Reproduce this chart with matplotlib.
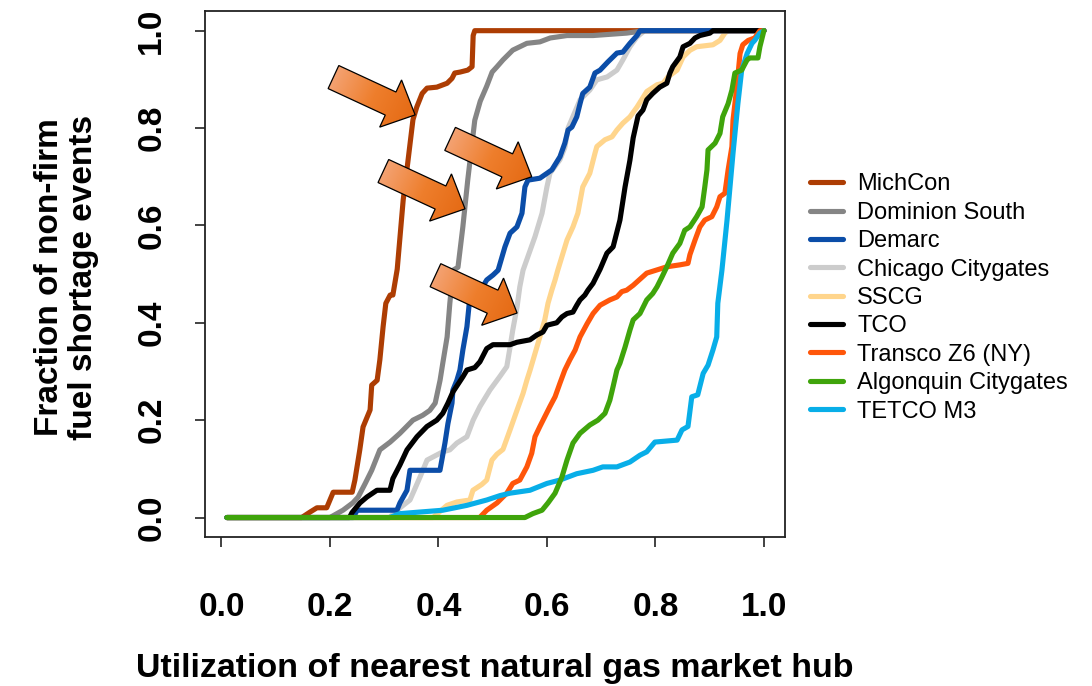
import numpy as np
import matplotlib
matplotlib.use("Agg")
import matplotlib.pyplot as plt
from matplotlib.patches import Polygon
from matplotlib.colors import LinearSegmentedColormap

plt.rcParams['font.family'] = ['Liberation Sans', 'DejaVu Sans']

# Cumulative fraction of non-firm fuel shortage events vs. hub utilization
SERIES_NAMES = ["MichCon", "Dominion South", "Demarc", "Chicago Citygates", "SSCG",
                "TCO", "Transco Z6 (NY)", "Algonquin Citygates", "TETCO M3"]
SERIES_COLORS = ["#AD3D03", "#858585", "#0B4DA8", "#CCCCCC", "#FFD58C",
                 "#000000", "#FF560A", "#3FA40B", "#08AEE8"]

MICHCON = [(0.01, 0), (0.148, 0), (0.163, 0.011), (0.176, 0.02), (0.194, 0.02), (0.206, 0.052),
           (0.241, 0.052), (0.246, 0.077), (0.255, 0.139), (0.261, 0.186), (0.274, 0.221),
           (0.277, 0.272), (0.287, 0.282), (0.292, 0.324), (0.298, 0.392), (0.303, 0.44),
           (0.311, 0.457), (0.316, 0.457), (0.324, 0.51), (0.335, 0.652), (0.344, 0.734),
           (0.353, 0.817), (0.360, 0.843), (0.370, 0.871), (0.379, 0.882), (0.397, 0.884),
           (0.416, 0.892), (0.425, 0.902), (0.430, 0.913), (0.440, 0.915), (0.454, 0.919),
           (0.462, 0.926), (0.464, 0.99), (0.467, 1.0), (1.0, 1.0)]

DOMINION_SOUTH = [(0.01, 0), (0.2, 0), (0.224, 0.015), (0.242, 0.03), (0.252, 0.042),
                  (0.265, 0.07), (0.277, 0.097), (0.292, 0.139), (0.311, 0.155), (0.329, 0.173),
                  (0.353, 0.2), (0.371, 0.21), (0.384, 0.22), (0.394, 0.235), (0.403, 0.282),
                  (0.408, 0.317), (0.416, 0.371), (0.421, 0.44), (0.427, 0.508), (0.436, 0.514),
                  (0.445, 0.597), (0.454, 0.693), (0.462, 0.769), (0.467, 0.816), (0.477, 0.855),
                  (0.489, 0.886), (0.499, 0.915), (0.508, 0.926), (0.519, 0.94), (0.537, 0.96),
                  (0.563, 0.974), (0.587, 0.977), (0.606, 0.985), (0.637, 0.99), (0.685, 0.99),
                  (0.747, 0.995), (0.78, 1.0), (1.0, 1.0)]

DEMARC = [(0.01, 0), (0.243, 0), (0.25, 0.015), (0.3235, 0.015), (0.329, 0.03), (0.342, 0.056),
          (0.3475, 0.097), (0.4028, 0.097), (0.412, 0.153), (0.4175, 0.193), (0.425, 0.235),
          (0.4267, 0.262), (0.434, 0.282), (0.4396, 0.303), (0.445, 0.344), (0.4525, 0.392),
          (0.458, 0.453), (0.4636, 0.467), (0.48, 0.471), (0.489, 0.488), (0.5005, 0.498),
          (0.51, 0.508), (0.5226, 0.556), (0.532, 0.584), (0.5447, 0.597), (0.554, 0.625),
          (0.5594, 0.679), (0.565, 0.693), (0.587, 0.697), (0.600, 0.707), (0.609, 0.714),
          (0.624, 0.741), (0.633, 0.769), (0.639, 0.796), (0.646, 0.802), (0.655, 0.823),
          (0.661, 0.85), (0.666, 0.871), (0.679, 0.884), (0.6885, 0.913), (0.698, 0.919),
          (0.7125, 0.936), (0.729, 0.954), (0.740, 0.956), (0.753, 0.974), (0.766, 0.99),
          (0.7715, 1.0), (1.0, 1.0)]

CHICAGO_CITYGATES = [(0.01, 0), (0.31, 0), (0.3235, 0.015), (0.3475, 0.036), (0.366, 0.083),
                     (0.379, 0.118), (0.408, 0.135), (0.421, 0.139), (0.434, 0.153), (0.4525, 0.166),
                     (0.464, 0.2), (0.4765, 0.228), (0.495, 0.262), (0.5134, 0.29), (0.526, 0.31),
                     (0.532, 0.35), (0.537, 0.385), (0.545, 0.433), (0.55, 0.474), (0.556, 0.508),
                     (0.578, 0.577), (0.591, 0.625), (0.600, 0.679), (0.6055, 0.707), (0.624, 0.735),
                     (0.633, 0.76), (0.639, 0.80), (0.661, 0.858), (0.679, 0.878), (0.692, 0.899),
                     (0.711, 0.905), (0.729, 0.919), (0.740, 0.94), (0.753, 0.967), (0.766, 0.987),
                     (0.78, 1.0), (1.0, 1.0)]

SSCG = [(0.01, 0), (0.39, 0), (0.4157, 0.025), (0.434, 0.032), (0.458, 0.036), (0.4636, 0.056),
        (0.480, 0.068), (0.489, 0.077), (0.4986, 0.118), (0.5078, 0.13), (0.519, 0.14),
        (0.532, 0.18), (0.545, 0.221), (0.556, 0.255), (0.563, 0.282), (0.569, 0.303),
        (0.578, 0.337), (0.587, 0.371), (0.596, 0.406), (0.602, 0.44), (0.609, 0.467),
        (0.615, 0.488), (0.620, 0.508), (0.637, 0.57), (0.648, 0.597), (0.657, 0.625),
        (0.666, 0.679), (0.679, 0.707), (0.6885, 0.748), (0.692, 0.762), (0.707, 0.776),
        (0.720, 0.782), (0.729, 0.796), (0.740, 0.81), (0.753, 0.823), (0.766, 0.843),
        (0.784, 0.875), (0.803, 0.889), (0.814, 0.892), (0.823, 0.905), (0.840, 0.919),
        (0.851, 0.946), (0.864, 0.96), (0.876, 0.967), (0.906, 0.971), (0.919, 0.98),
        (0.928, 0.995), (0.934, 1.0), (1.0, 1.0)]

TCO = [(0.01, 0), (0.236, 0), (0.2406, 0.01), (0.2553, 0.03), (0.268, 0.042), (0.2866, 0.056),
       (0.3106, 0.056), (0.316, 0.08), (0.329, 0.108), (0.342, 0.139), (0.3604, 0.166),
       (0.3788, 0.187), (0.397, 0.2), (0.408, 0.214), (0.4175, 0.235), (0.4267, 0.258),
       (0.445, 0.289), (0.4525, 0.303), (0.467, 0.308), (0.4765, 0.32), (0.489, 0.347),
       (0.5005, 0.355), (0.532, 0.355), (0.5447, 0.36), (0.5687, 0.365), (0.5816, 0.375),
       (0.5926, 0.381), (0.600, 0.395), (0.618, 0.40), (0.6276, 0.412), (0.637, 0.419),
       (0.648, 0.422), (0.655, 0.436), (0.661, 0.447), (0.670, 0.457), (0.6756, 0.467),
       (0.685, 0.481), (0.698, 0.51), (0.7106, 0.543), (0.722, 0.556), (0.7346, 0.611),
       (0.744, 0.679), (0.753, 0.734), (0.759, 0.78), (0.768, 0.825), (0.777, 0.837),
       (0.784, 0.858), (0.795, 0.871), (0.808, 0.884), (0.821, 0.892), (0.8267, 0.913),
       (0.832, 0.926), (0.845, 0.946), (0.851, 0.967), (0.8636, 0.974), (0.873, 0.985),
       (0.882, 0.99), (0.9005, 0.995), (0.906, 1.0), (1.0, 1.0)]

TRANSCO_Z6 = [(0.01, 0), (0.476, 0), (0.489, 0.015), (0.508, 0.03), (0.526, 0.05), (0.537, 0.07),
              (0.55, 0.077), (0.563, 0.104), (0.572, 0.132), (0.578, 0.166), (0.587, 0.187),
              (0.596, 0.207), (0.6055, 0.228), (0.615, 0.248), (0.624, 0.276), (0.633, 0.303),
              (0.642, 0.3235), (0.652, 0.344), (0.661, 0.371), (0.674, 0.398), (0.685, 0.419),
              (0.698, 0.436), (0.716, 0.447), (0.729, 0.453), (0.738, 0.464), (0.747, 0.467),
              (0.759, 0.477), (0.766, 0.484), (0.784, 0.502), (0.821, 0.515), (0.845, 0.519),
              (0.86, 0.522), (0.8636, 0.54), (0.873, 0.57), (0.882, 0.597), (0.891, 0.611),
              (0.904, 0.618), (0.913, 0.638), (0.919, 0.659), (0.928, 0.666), (0.934, 0.714),
              (0.941, 0.762), (0.943, 0.816), (0.950, 0.884), (0.956, 0.953), (0.961, 0.971),
              (0.971, 0.98), (0.983, 0.985), (0.9926, 1.0), (1.0, 1.0)]

ALGONQUIN_CITYGATES = [(0.01, 0), (0.5594, 0), (0.574, 0.008), (0.591, 0.015), (0.602, 0.03),
                       (0.615, 0.05), (0.6276, 0.083), (0.637, 0.118), (0.648, 0.153), (0.661, 0.173),
                       (0.679, 0.19), (0.694, 0.2), (0.707, 0.214), (0.716, 0.241), (0.722, 0.269),
                       (0.729, 0.303), (0.7346, 0.317), (0.744, 0.35), (0.753, 0.385), (0.759, 0.406),
                       (0.7715, 0.419), (0.784, 0.447), (0.795, 0.46), (0.803, 0.474), (0.812, 0.494),
                       (0.821, 0.515), (0.832, 0.543), (0.845, 0.563), (0.854, 0.59), (0.8636, 0.597),
                       (0.876, 0.618), (0.886, 0.638), (0.891, 0.679), (0.895, 0.714), (0.897, 0.755),
                       (0.91, 0.769), (0.919, 0.789), (0.924, 0.823), (0.934, 0.85), (0.941, 0.878),
                       (0.9465, 0.913), (0.959, 0.919), (0.969, 0.94), (0.974, 0.944), (0.989, 0.944),
                       (0.9926, 0.967), (1.0, 1.0)]

TETCO_M3 = [(0.01, 0), (0.31, 0), (0.329, 0.008), (0.408, 0.015), (0.4525, 0.025), (0.489, 0.036),
            (0.5134, 0.045), (0.532, 0.05), (0.5687, 0.056), (0.600, 0.07), (0.624, 0.077),
            (0.655, 0.09), (0.685, 0.097), (0.703, 0.104), (0.729, 0.104), (0.753, 0.114),
            (0.7715, 0.128), (0.784, 0.135), (0.799, 0.155), (0.840, 0.159), (0.849, 0.18),
            (0.86, 0.187), (0.867, 0.248), (0.878, 0.252), (0.888, 0.296), (0.897, 0.313),
            (0.906, 0.344), (0.913, 0.371), (0.915, 0.44), (0.9226, 0.508), (0.932, 0.611),
            (0.943, 0.748), (0.952, 0.85), (0.959, 0.919), (0.969, 0.953), (0.978, 0.974),
            (0.983, 0.98), (0.9926, 0.995), (1.0, 1.0)]

SERIES_POINTS = [MICHCON, DOMINION_SOUTH, DEMARC, CHICAGO_CITYGATES, SSCG,
                 TCO, TRANSCO_Z6, ALGONQUIN_CITYGATES, TETCO_M3]
# stacking order of the curves (higher on top)
SERIES_Z = [3, 4, 5, 1, 2, 6, 7, 9, 8]

X_TICKS = [0.0, 0.2, 0.4, 0.6, 0.8, 1.0]
Y_TICKS = [0.0, 0.2, 0.4, 0.6, 0.8, 1.0]

# highlighted points on the curves (arrow tips)
ARROW_TIPS = [(0.357, 0.827), (0.449, 0.634), (0.572, 0.700), (0.545, 0.420)]

W, H = 1092, 686
fig = plt.figure(figsize=(W / 100, H / 100), dpi=100)
fig.patch.set_facecolor("white")
ax = fig.add_axes([205.4 / W, (H - 537) / H, 580 / W, 525.8 / H])

handles = []
for name, pts, color, z in zip(SERIES_NAMES, SERIES_POINTS, SERIES_COLORS, SERIES_Z):
    xs = [p[0] for p in pts]
    ys = [p[1] for p in pts]
    ln, = ax.plot(xs, ys, color=color, lw=3.7, solid_capstyle="round",
                  solid_joinstyle="round", zorder=z, label=name)
    handles.append(ln)

ax.set_xlim(-0.0296, 1.0396)
ax.set_ylim(-0.04, 1.04)
ax.set_autoscale_on(False)

for s in ax.spines.values():
    s.set_linewidth(1.3)
    s.set_color("#222222")

ax.set_xticks(X_TICKS)
ax.set_xticklabels([f"{v:.1f}" for v in X_TICKS], fontsize=24, fontweight="bold")
ax.set_yticks(Y_TICKS)
ax.set_yticklabels([f"{v:.1f}" for v in Y_TICKS], fontsize=24, fontweight="bold",
                   rotation=90, va="center")
ax.tick_params(axis="x", direction="out", length=7.5, width=1.2, pad=32, color="#222222")
ax.tick_params(axis="y", direction="out", length=7.5, width=1.2, pad=20, color="#222222")

fig.text(66.5 / W, 1 - 277 / H, "Fraction of non-firm\nfuel shortage events",
         rotation=90, ha="center", va="center", multialignment="center",
         fontsize=24, fontweight="bold", linespacing=1.12)
fig.text(495 / W, 1 - 668 / H, "Utilization of nearest natural gas market hub",
         ha="center", va="center", fontsize=24.5, fontweight="bold")

ax.legend(handles=handles, loc="center left", bbox_to_anchor=(810 / W, 1 - 298 / H),
          bbox_transform=fig.transFigure, frameon=False, fontsize=17,
          handlelength=1.4, handletextpad=0.6, labelspacing=0.27,
          borderpad=0, borderaxespad=0)

# gradient-filled block arrows pointing at the highlighted points
arrow_cmap = LinearSegmentedColormap.from_list("arrow", ["#F4A272", "#EE7E2C", "#E56A14"])


def block_arrow(ax, tip):
    trans = ax.transData
    tip_d = trans.transform(tip)
    u = np.array([82.0, -38.0])
    u /= np.linalg.norm(u)
    n = np.array([-u[1], u[0]])
    length, head_len, shaft_hw, head_hw = 90.0, 27.0, 12.7, 26.0
    tail = tip_d - u * length
    base = tip_d - u * head_len
    pts_d = np.array([tail + n * shaft_hw, base + n * shaft_hw, base + n * head_hw, tip_d,
                      base - n * head_hw, base - n * shaft_hw, tail - n * shaft_hw])
    pts = trans.inverted().transform(pts_d)
    poly = Polygon(pts, closed=True, facecolor="none", edgecolor="black",
                   lw=0.9, joinstyle="miter", zorder=21)
    ax.add_patch(poly)
    (x0, y0), (x1, y1) = pts_d.min(axis=0), pts_d.max(axis=0)
    gx, gy = np.meshgrid(np.linspace(x0, x1, 200), np.linspace(y0, y1, 200))
    t = ((gx - tail[0]) * u[0] + (gy - tail[1]) * u[1]) / length
    (dx0, dy0), (dx1, dy1) = trans.inverted().transform([[x0, y0], [x1, y1]])
    im = ax.imshow(t, extent=[dx0, dx1, dy0, dy1], origin="lower", cmap=arrow_cmap,
                   vmin=0, vmax=1, aspect="auto", interpolation="bilinear", zorder=20)
    im.set_clip_path(poly)


for tip in ARROW_TIPS:
    block_arrow(ax, tip)

ax.set_xlim(-0.0296, 1.0396)
ax.set_ylim(-0.04, 1.04)

fig.savefig("out.png", dpi=100, facecolor="white")
